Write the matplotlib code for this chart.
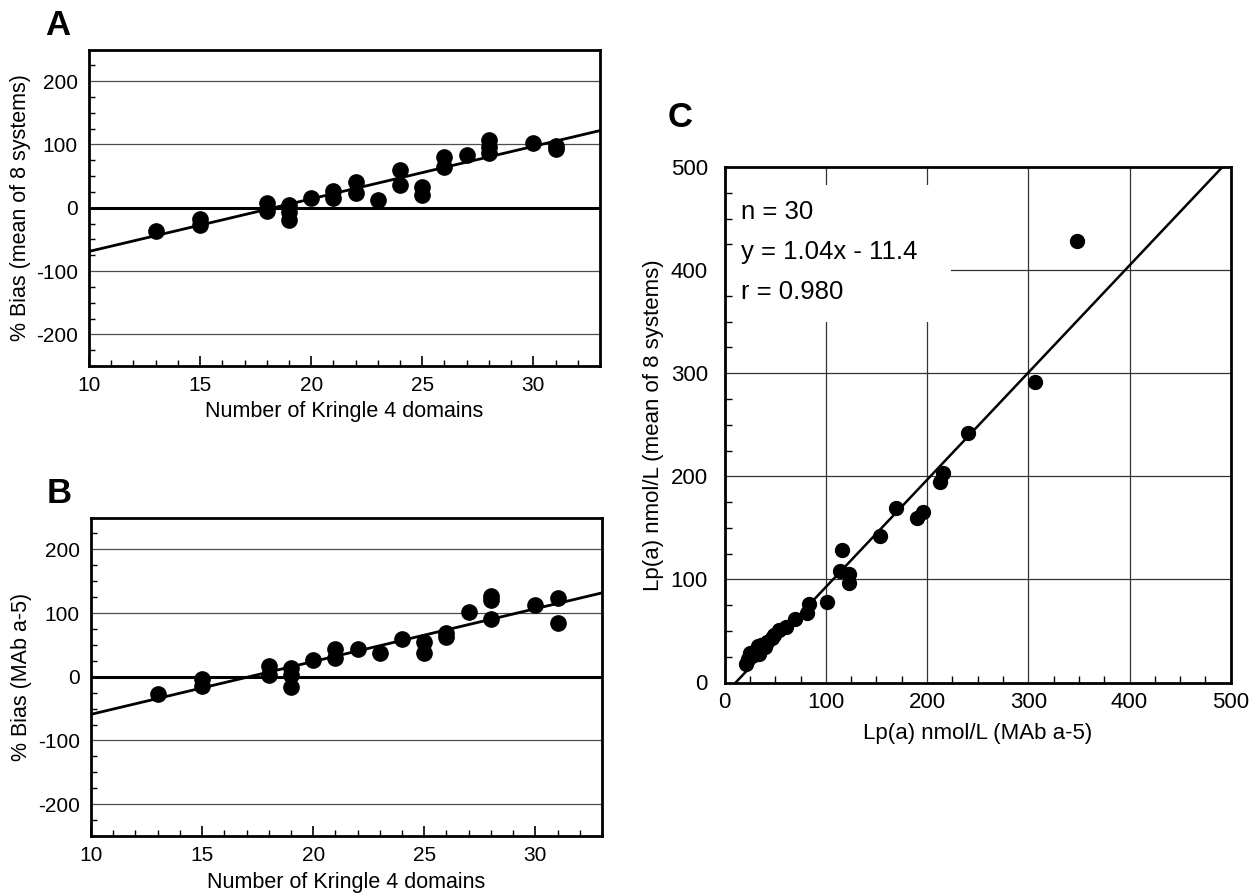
import numpy as np
import matplotlib
matplotlib.use("Agg")
import matplotlib.pyplot as plt
from matplotlib.ticker import MultipleLocator
from matplotlib.patches import Rectangle

plt.rcParams['font.family'] = ['Liberation Sans', 'DejaVu Sans']
plt.rcParams['axes.unicode_minus'] = False

# panel A: % bias (mean of 8 systems) vs number of kringle 4 domains
kringle_a = [13, 15, 15, 18, 18, 19, 19, 19, 20, 21, 21, 22, 22, 23,
             24, 24, 25, 25, 26, 26, 27, 28, 28, 28, 30, 31, 31]
bias_a = [-36, -18, -28, 8, -5, 4, -6, -19, 16, 27, 15, 41, 24, 12,
          59, 36, 33, 20, 80, 65, 84, 107, 96, 86, 103, 97, 93]
fit_a = (8.3, -152.0)

# panel B: % bias (MAb a-5) vs number of kringle 4 domains
kringle_b = [13, 15, 15, 18, 18, 19, 19, 19, 20, 21, 21, 22, 23, 24,
             25, 25, 26, 26, 27, 28, 28, 28, 30, 31, 31]
bias_b = [-27, -4, -14, 17, 3, 13, 2, -16, 27, 44, 30, 44, 37, 60,
          54, 38, 69, 62, 102, 127, 120, 90, 112, 124, 85]
fit_b = (8.29, -141.9)

# panel C: Lp(a) mean of 8 systems vs MAb a-5
lpa_mab = [347.8, 306.3, 240.4, 215.5, 212.6, 169.5, 195.7, 190.3, 153.2, 116.4,
           113.5, 123.3, 122.5, 101.0, 82.9, 81.1, 69.3, 60.3, 54.1, 46.9,
           41.5, 36.1, 34.3, 25.3, 28.9, 21.6, 39.7, 32.5, 23.5, 48.7]
lpa_mean = [427.8, 291.0, 241.8, 202.9, 194.0, 169.3, 165.7, 159.4, 142.4, 128.3,
            108.0, 105.5, 96.3, 78.0, 76.2, 67.3, 61.3, 54.2, 51.4, 43.2,
            39.7, 36.5, 27.7, 29.0, 26.6, 17.8, 34.8, 35.4, 23.0, 46.0]
fit_c = (1.04, -11.4)
stats_c = ['n = 30', 'y = 1.04x - 11.4', 'r = 0.980']

W, H = 1259, 893
fig = plt.figure(figsize=(W / 100, H / 100), dpi=100)


def rect(left, top, right, bottom):
    return [left / W, 1 - bottom / H, (right - left) / W, (bottom - top) / H]


def bias_panel(ax, xs, ys, fit, ylabel, letter, lpos, ylab_x, xlab_y):
    ax.set_xlim(10, 33)
    ax.set_ylim(-250, 250)
    for g in [-200, -100, 100, 200]:
        ax.axhline(g, color='0.3', lw=0.9, zorder=1)
    ax.axhline(0, color='black', lw=2.2, zorder=1)
    xx = np.array([10, 33])
    ax.plot(xx, fit[0] * xx + fit[1], color='black', lw=2, zorder=2)
    ax.plot(xs, ys, 'o', color='black', ms=11, zorder=3)
    ax.set_xticks([10, 15, 20, 25, 30])
    ax.set_yticks([-200, -100, 0, 100, 200])
    ax.xaxis.set_minor_locator(MultipleLocator(1))
    ax.yaxis.set_minor_locator(MultipleLocator(25))
    ax.tick_params(axis='both', which='both', direction='in', top=False, right=False)
    ax.tick_params(axis='x', which='major', length=7, width=1.2, pad=7, labelsize=15)
    ax.tick_params(axis='x', which='minor', length=4, width=1)
    ax.tick_params(axis='y', which='major', length=0, pad=8, labelsize=15)
    ax.tick_params(axis='y', which='minor', length=4, width=1)
    for s in ax.spines.values():
        s.set_linewidth(2)
    ax.set_xlabel('Number of Kringle 4 domains', fontsize=15.5)
    ax.set_ylabel(ylabel, fontsize=15.5)
    ax.xaxis.set_label_coords(0.5, xlab_y)
    ax.yaxis.set_label_coords(ylab_x, 0.5)
    fig.text(lpos[0] / W, 1 - lpos[1] / H, letter, fontsize=25, fontweight='bold',
             ha='left', va='baseline')


ax_a = fig.add_axes(rect(89, 49.5, 600, 366))
bias_panel(ax_a, kringle_a, bias_a, fit_a, '% Bias (mean of 8 systems)', 'A', (45, 35),
           -0.113, -0.112)

ax_b = fig.add_axes(rect(91, 517.5, 602, 836))
bias_panel(ax_b, kringle_b, bias_b, fit_b, '% Bias (MAb a-5)', 'B', (47, 503),
           -0.115, -0.112)

# panel C
ax_c = fig.add_axes(rect(724.6, 167, 1230.8, 682.5))
ax_c.set_xlim(0, 500)
ax_c.set_ylim(0, 500)
for g in [100, 200, 300, 400]:
    ax_c.axhline(g, color='0.2', lw=0.9, zorder=1)
    ax_c.axvline(g, color='0.2', lw=0.9, zorder=1)
ax_c.add_patch(Rectangle((0, 350), 224, 133, facecolor='white', edgecolor='none', zorder=1.5))
xx = np.array([0, 500])
ax_c.plot(xx, fit_c[0] * xx + fit_c[1], color='black', lw=1.8, zorder=2)
ax_c.plot(lpa_mab, lpa_mean, 'o', color='black', ms=10, zorder=3)
ax_c.set_xticks([0, 100, 200, 300, 400, 500])
ax_c.set_yticks([0, 100, 200, 300, 400, 500])
ax_c.xaxis.set_minor_locator(MultipleLocator(25))
ax_c.yaxis.set_minor_locator(MultipleLocator(25))
ax_c.tick_params(axis='both', which='both', direction='in', top=False, right=False)
ax_c.tick_params(axis='both', which='major', length=0, labelsize=16)
ax_c.tick_params(axis='x', which='major', pad=7)
ax_c.tick_params(axis='y', which='major', pad=12)
ax_c.tick_params(axis='both', which='minor', length=5, width=1)
for s in ax_c.spines.values():
    s.set_linewidth(2)
ax_c.set_xlabel('Lp(a) nmol/L (MAb a-5)', fontsize=16)
ax_c.set_ylabel('Lp(a) nmol/L (mean of 8 systems)', fontsize=16)
ax_c.xaxis.set_label_coords(0.5, -0.078)
ax_c.yaxis.set_label_coords(-0.12, 0.5)
for i, t in enumerate(stats_c):
    ax_c.text(16, 450 - 39 * i, t, fontsize=18.5, ha='left', va='baseline', zorder=4)
fig.text(668 / W, 1 - 127 / H, 'C', fontsize=25, fontweight='bold', ha='left', va='baseline')

fig.savefig('out.png', dpi=100)
